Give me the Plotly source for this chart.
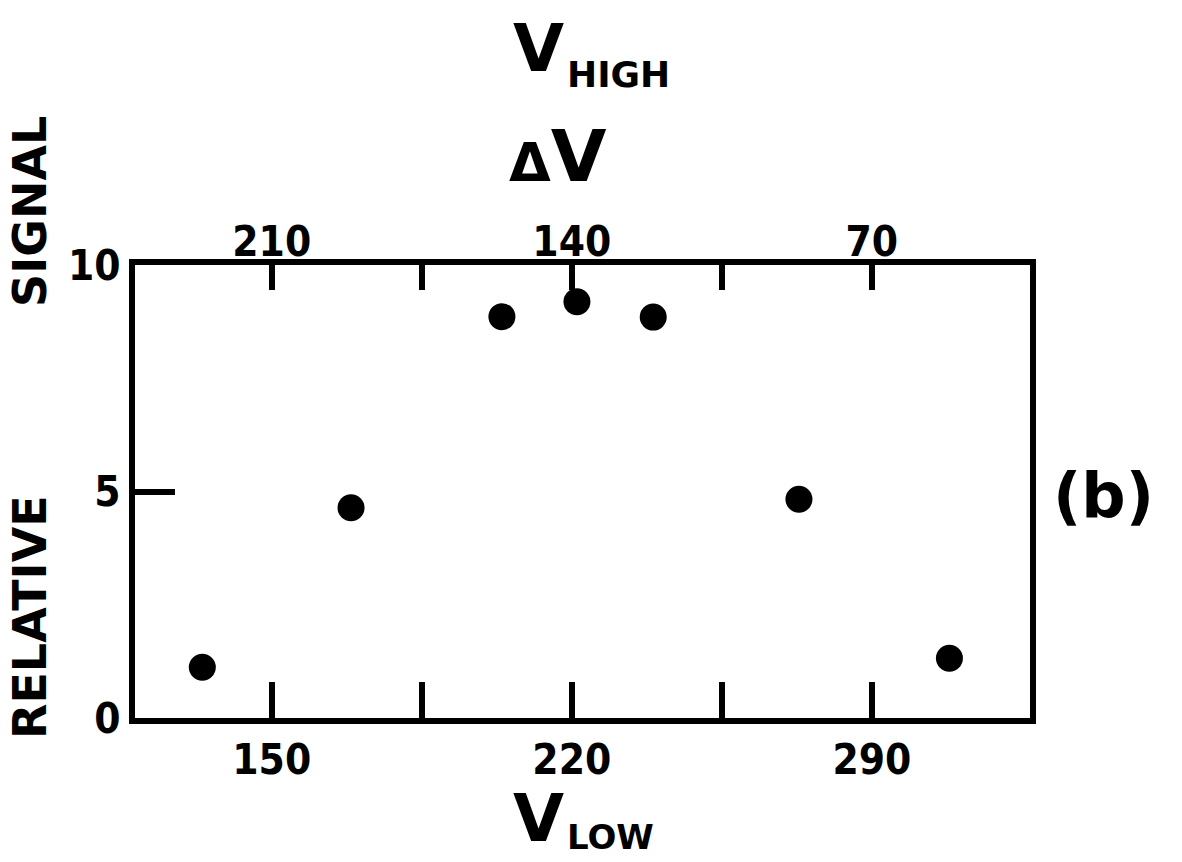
import plotly.graph_objects as go

# Data
v_low = [133.8, 168.5, 203.7, 221.2, 239.0, 273.0, 308.1]
signal = [1.12, 4.64, 8.86, 9.19, 8.85, 4.83, 1.32]
v_total = 360  # dV = 360 - V_LOW
delta_v = [v_total - v for v in v_low]

x_ticks = [150, 185, 220, 255, 290]
x_ticktext = ["150", "", "220", "", "290"]
dv_ticks = [210, 175, 140, 105, 70]
dv_ticktext = ["210", "", "140", "", "70"]
y_ticks = [0, 5, 10]
y_ticktext = ["0", "5", "10"]

x_range = [118.1, 326.9]
y_range = [0, 10]

TICKFONT = dict(family="Liberation Sans Narrow, DejaVu Sans Condensed, Arial Narrow, sans-serif",
                size=42, color="black", weight="bold")
TITLEFONT = "DejaVu Sans, Verdana, sans-serif"

fig = go.Figure()
fig.add_trace(go.Scatter(
    x=v_low, y=signal, mode="markers",
    marker=dict(size=27, color="black", line=dict(width=0)),
    xaxis="x", yaxis="y", showlegend=False, hoverinfo="skip"))
fig.add_trace(go.Scatter(
    x=delta_v, y=signal, mode="markers",
    marker=dict(size=27, color="black", opacity=0),
    xaxis="x2", yaxis="y", showlegend=False, hoverinfo="skip"))

fig.update_layout(
    width=1182, height=862,
    margin=dict(l=135, r=152, t=265, b=144),
    paper_bgcolor="white", plot_bgcolor="white",
    xaxis=dict(range=x_range, tickvals=x_ticks, ticktext=x_ticktext,
               ticks="inside", ticklen=36, tickwidth=6, tickcolor="black",
               showline=True, linewidth=6, linecolor="black", mirror=True,
               showgrid=False, zeroline=False, tickfont=TICKFONT),
    xaxis2=dict(range=[v_total - x_range[0], v_total - x_range[1]],
                overlaying="x", side="top", anchor="y",
                tickvals=dv_ticks, ticktext=dv_ticktext,
                ticks="inside", ticklen=25, tickwidth=6, tickcolor="black",
                showline=False, showgrid=False, zeroline=False, tickfont=TICKFONT),
    yaxis=dict(range=y_range, tickvals=y_ticks, ticktext=y_ticktext,
               ticks="inside", ticklen=40, tickwidth=6, tickcolor="black",
               showline=True, linewidth=6, linecolor="black", mirror=True,
               showgrid=False, zeroline=False, tickfont=TICKFONT),
)

def ann(text, x, y, size, xanchor="center", yanchor="middle", angle=0):
    fig.add_annotation(text=text, x=x, y=y, xref="paper", yref="paper",
                       xanchor=xanchor, yanchor=yanchor, textangle=angle,
                       showarrow=False,
                       font=dict(family=TITLEFONT, size=size, color="black", weight="bold"))

L, R, T, B = 135, 1182 - 152, 265, 862 - 144
def px(x):
    return (x - L) / (R - L)
def py(y):
    return (B - y) / (B - T)

# V_HIGH
ann("V", px(566), py(48), 66, xanchor="right")
ann("HIGH", px(565), py(74), 36, xanchor="left")
# Delta V
ann("<span style='font-size:54px'>Δ</span>V", px(558), py(156), 72)
# V_LOW
ann("V", px(566), py(818), 66, xanchor="right")
ann("LOW", px(565), py(837), 34, xanchor="left")
# Y-axis title
ann("RELATIVE", px(30), py(617), 46, angle=-90)
ann("SIGNAL", px(30), py(212), 46, angle=-90)
# panel label
ann("(b)", px(1103), py(495), 62)

fig.write_html("out.html")
